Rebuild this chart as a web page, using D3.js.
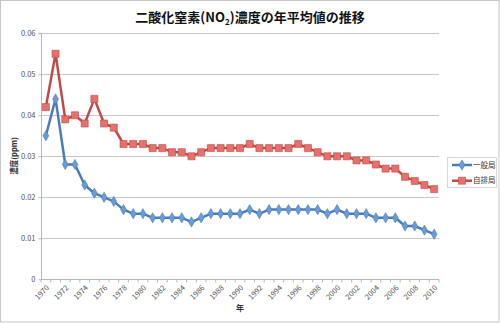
<!DOCTYPE html>
<html><head><meta charset="utf-8">
<script src="https://cdn.jsdelivr.net/npm/d3@7"></script>
<style>body{margin:0;background:#fff}svg{display:block}text{font-family:"Noto Sans CJK JP","Noto Sans",sans-serif}</style>
</head><body><svg id="c" width="500" height="323"></svg>
<script>
const years = d3.range(1970, 2011);
const seriesNames = ["一般局", "自排局"];
const ippan = [0.035,0.044,0.028,0.028,0.023,0.021,0.020,0.019,0.017,0.016,0.016,0.015,0.015,0.015,0.015,0.014,0.015,0.016,0.016,0.016,0.016,0.017,0.016,0.017,0.017,0.017,0.017,0.017,0.017,0.016,0.017,0.016,0.016,0.016,0.015,0.015,0.015,0.013,0.013,0.012,0.011];
const jihai = [0.042,0.055,0.039,0.040,0.038,0.044,0.038,0.037,0.033,0.033,0.033,0.032,0.032,0.031,0.031,0.030,0.031,0.032,0.032,0.032,0.032,0.033,0.032,0.032,0.032,0.032,0.033,0.032,0.031,0.030,0.030,0.030,0.029,0.029,0.028,0.027,0.027,0.025,0.024,0.023,0.022];
const yTicks = [0,0.01,0.02,0.03,0.04,0.05,0.06];
const xTickLabels = years.filter(y => (y - 1970) % 2 === 0);

const svg = d3.select("#c");
svg.append("rect").attr("x",0.5).attr("y",0.5).attr("width",498.5).attr("height",321.5).attr("fill","#fff").attr("stroke","#c6c6c6");

const L=41, R=439, T=33.3, B=279.3;
const x = d3.scaleBand().domain(years).range([L,R]);
const y = d3.scaleLinear().domain([0,0.06]).range([B,T]);
const cx = d => x(d) + x.bandwidth()/2;

// gridlines
svg.append("g").selectAll("line").data(yTicks.slice(1)).join("line")
  .attr("x1",L).attr("x2",R).attr("y1",d=>Math.round(y(d))+0.5).attr("y2",d=>Math.round(y(d))+0.5)
  .attr("stroke","#c8c8c8").attr("stroke-width",1);

// y axis
const ya = svg.append("g").attr("transform",`translate(${L+0.5},0)`)
  .call(d3.axisLeft(y).tickValues(yTicks).tickSize(3).tickFormat(d=>d===0?"0":d3.format(".2f")(d)));
ya.select(".domain").attr("stroke","#b8b8b8").attr("d",`M-3,${y(0.06)}H0V${B}`);
ya.selectAll(".tick line").attr("stroke","#b8b8b8");
ya.selectAll(".tick text").attr("fill","#555").attr("font-size",7.5).attr("x",-6).attr("font-family","Liberation Sans, sans-serif");

// x axis
const xa = svg.append("g").attr("transform",`translate(0,${Math.round(B)+0.5})`);
xa.append("line").attr("x1",L).attr("x2",R).attr("stroke","#b8b8b8");
xa.selectAll("line.t").data(years.concat([2011])).join("line").attr("class","t")
  .attr("x1",d=>d===2011?R:x(d)).attr("x2",d=>d===2011?R:x(d)).attr("y1",0).attr("y2",3).attr("stroke","#b8b8b8");
xa.selectAll("text").data(xTickLabels).join("text")
  .attr("transform",d=>`translate(${cx(d)+2},${7}) rotate(-45)`)
  .attr("text-anchor","end").attr("dy","0.35em").attr("font-size",7.5).attr("fill","#555")
  .attr("font-family","Liberation Sans, sans-serif").text(d=>d);

// axis titles
svg.append("text").attr("x",240).attr("y",311).attr("text-anchor","middle").attr("font-size",8).attr("font-weight","bold").attr("fill","#333").text("年");
svg.append("text").attr("transform","translate(17,156) rotate(-90)").attr("text-anchor","middle").attr("font-size",7.5).attr("font-weight","bold").attr("fill","#333").text("濃度(ppm)");

// title
const tt = svg.append("text").attr("x",250).attr("y",22).attr("text-anchor","middle").attr("font-size",13).attr("font-weight","bold").attr("fill","#111");
tt.append("tspan").text("二酸化窒素(NO");
tt.append("tspan").attr("font-size",8).attr("dy",3).text("2");
tt.append("tspan").attr("dy",-3).text(")濃度の年平均値の推移");

// series
const colors = ["#4a7ebb","#be4b48"];
const fills = ["#6a9bd6","#e6706c"];
const data = [ippan, jihai];
const line = d3.line().x((d,i)=>cx(years[i])).y(d=>y(d));
const diamond = d3.symbol().type(d3.symbolDiamond).size(30);
const square = d3.symbol().type(d3.symbolSquare).size(50);

data.forEach((vals,k)=>{
  svg.append("path").datum(vals).attr("d",line).attr("fill","none").attr("stroke",colors[k]).attr("stroke-width",2.5).attr("stroke-linejoin","round");
  svg.append("g").selectAll("path").data(vals).join("path")
    .attr("transform",(d,i)=>`translate(${cx(years[i])},${y(d)})`)
    .attr("d",k===0?diamond:square).attr("fill",fills[k]).attr("stroke",colors[k]).attr("stroke-width",0.6);
});

// legend
const lg = svg.append("g");
lg.append("rect").attr("x",447.5).attr("y",157.5).attr("width",49).attr("height",30).attr("fill","#fff").attr("stroke","#d8d8d8");
seriesNames.forEach((n,k)=>{
  const yy = 165 + k*15.7;
  lg.append("line").attr("x1",452).attr("x2",472).attr("y1",yy).attr("y2",yy).attr("stroke",colors[k]).attr("stroke-width",2.5);
  lg.append("path").attr("transform",`translate(462,${yy})`).attr("d",k===0?diamond:square).attr("fill",fills[k]).attr("stroke",colors[k]).attr("stroke-width",0.6);
  lg.append("text").attr("x",473).attr("y",yy).attr("dy","0.35em").attr("font-size",7.5).attr("fill","#333").text(n);
});
</script></body></html>
